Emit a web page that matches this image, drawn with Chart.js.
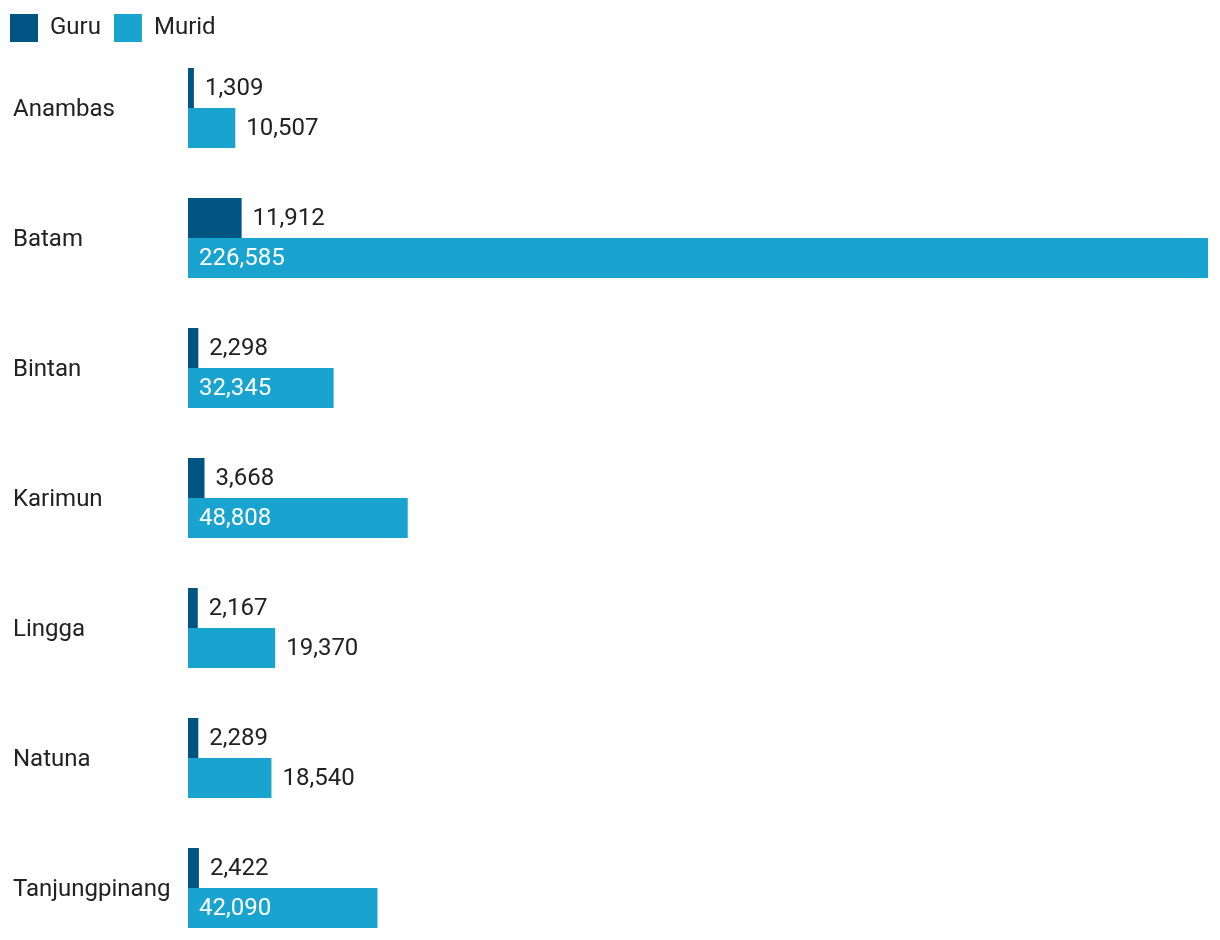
<!DOCTYPE html>
<html><head><meta charset="utf-8">
<script src="https://cdn.jsdelivr.net/npm/chart.js@4/dist/chart.umd.min.js"></script>
<style>html,body{margin:0;padding:0;background:#fff;overflow:hidden}canvas{position:absolute;left:0;top:0}</style>
</head><body><canvas id="c" width="1220" height="953"></canvas>
<script>
const categories = ["Anambas","Batam","Bintan","Karimun","Lingga","Natuna","Tanjungpinang"];
const guru = [1309,11912,2298,3668,2167,2289,2422];
const murid = [10507,226585,32345,48808,19370,18540,42090];
const seriesNames = ["Guru","Murid"];
const colors = ["#005481","#19a3cf"];
const FONT = "Roboto";
const FS = 24;

const valueLabels = {
  id: 'valueLabels',
  afterDatasetsDraw(chart) {
    const ctx = chart.ctx;
    ctx.save();
    ctx.font = FS + "px " + FONT;
    ctx.textBaseline = "middle";
    ctx.textAlign = "left";
    chart.data.datasets.forEach((ds, di) => {
      const meta = chart.getDatasetMeta(di);
      meta.data.forEach((bar, i) => {
        const txt = ds.data[i].toLocaleString('en-US');
        const w = ctx.measureText(txt).width;
        const barW = bar.x - bar.base;
        if (barW > w + 22) {
          ctx.fillStyle = "#ffffff";
          ctx.fillText(txt, bar.base + 11, bar.y + 1);
        } else {
          ctx.fillStyle = "#222222";
          ctx.fillText(txt, bar.x + 11, bar.y + 1);
        }
      });
    });
    ctx.restore();
  }
};

const shiftLegend = {
  id: 'shiftLegend',
  afterLayout(chart) {
    if (chart.legend) { chart.legend.left -= 16; chart.legend.top -= 1; }
  }
};

const chart = new Chart(document.getElementById('c'), {
  type: 'bar',
  data: {
    labels: categories,
    datasets: [
      {label: seriesNames[0], data: guru, backgroundColor: colors[0], borderWidth: 0, barPercentage: 1, categoryPercentage: 80/130},
      {label: seriesNames[1], data: murid, backgroundColor: colors[1], borderWidth: 0, barPercentage: 1, categoryPercentage: 80/130}
    ]
  },
  options: {
    indexAxis: 'y',
    responsive: false,
    animation: false,
    layout: {padding: {left: 13, right: 12, top: 2, bottom: 0}},
    plugins: {
      legend: {
        position: 'top', align: 'start', maxHeight: 41,
        labels: {boxWidth: 28, boxHeight: 28, padding: 13, color: '#222', font: {family: FONT, size: FS}}
      },
      tooltip: {enabled: false}
    },
    scales: {
      x: {display: false, min: 0, max: Math.max(...murid, ...guru)},
      y: {
        grid: {display: false}, border: {display: false},
        ticks: {crossAlign: 'far', color: '#222', font: {family: FONT, size: FS}, padding: 0, labelOffset: 2},
        afterFit(s) { s.width = 175; s.paddingTop = 0; s.paddingBottom = 0; }
      }
    }
  },
  plugins: [valueLabels, shiftLegend]
});
</script></body></html>
